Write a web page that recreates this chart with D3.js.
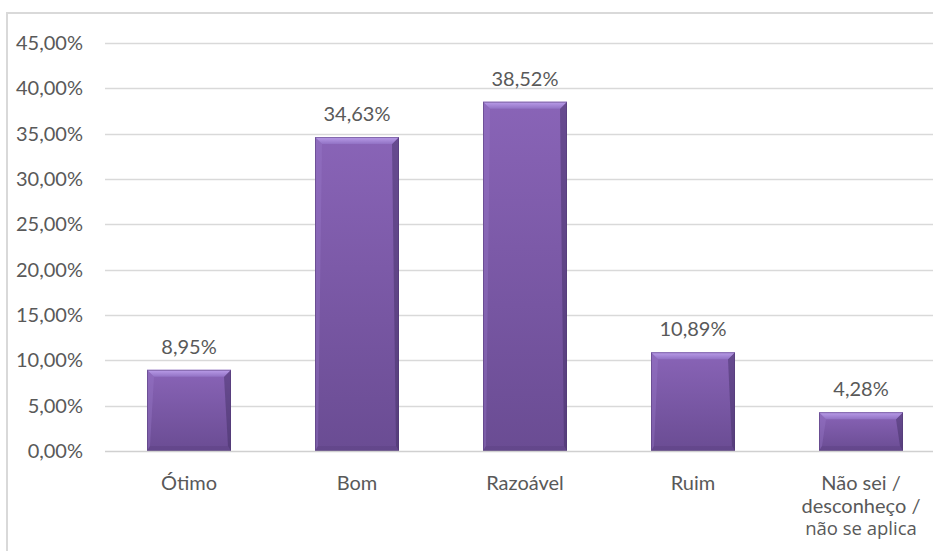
<!DOCTYPE html>
<html>
<head>
<meta charset="utf-8">
<script src="https://cdn.jsdelivr.net/npm/d3@7"></script>
<style>
html,body{margin:0;padding:0;background:#fff;}
svg{display:block;}
text{font-family:Lato,"Open Sans",sans-serif;fill:#595959;}
</style>
</head>
<body>
<svg id="chart" width="933" height="551"></svg>
<script>
const categories = ["\u00d3timo", "Bom", "Razo\u00e1vel", "Ruim", "N\u00e3o sei / desconhe\u00e7o / n\u00e3o se aplica"];
const categoryLines = [["\u00d3timo"], ["Bom"], ["Razo\u00e1vel"], ["Ruim"], ["N\u00e3o sei /", "desconhe\u00e7o /", "n\u00e3o se aplica"]];
const values = [8.95, 34.63, 38.52, 10.89, 4.28];
const yTicks = [0, 5, 10, 15, 20, 25, 30, 35, 40, 45];

const svg = d3.select("#chart");
const fs = 20;
const loc = d3.formatLocale({decimal: ",", thousands: ".", grouping: [3], currency: ["", ""]});
const fmt = loc.format(".2f");

// frame
svg.append("rect").attr("x", 7).attr("y", 13).attr("width", 1000).attr("height", 700)
  .attr("fill", "#fff").attr("stroke", "#d9d9d9").attr("stroke-width", 2);

const x = d3.scaleBand().domain(categories).range([105, 945]).paddingInner(0.5).paddingOuter(0.25);
const y = d3.scaleLinear().domain([0, 45]).range([451, 43]);

// gradients
const defs = svg.append("defs");
const g1 = defs.append("linearGradient").attr("id", "body").attr("x1", 0).attr("y1", 0).attr("x2", 0).attr("y2", 1);
g1.append("stop").attr("offset", "0%").attr("stop-color", "#8964b7");
g1.append("stop").attr("offset", "100%").attr("stop-color", "#6a4c93");
const g2 = defs.append("linearGradient").attr("id", "topbev").attr("x1", 0).attr("y1", 0).attr("x2", 0).attr("y2", 1);
g2.append("stop").attr("offset", "0%").attr("stop-color", "#bb9eea");
g2.append("stop").attr("offset", "100%").attr("stop-color", "#9172c4");

// gridlines
svg.append("g").selectAll("line").data(yTicks.filter(d => d > 0)).join("line")
  .attr("x1", 105).attr("x2", 945)
  .attr("y1", d => Math.round(y(d)) + 0.5).attr("y2", d => Math.round(y(d)) + 0.5)
  .attr("stroke", "#d9d9d9").attr("stroke-width", 1.5);

// y tick labels
svg.append("g").selectAll("text").data(yTicks).join("text")
  .attr("x", 83).attr("y", d => y(d) + 7)
  .attr("text-anchor", "end").attr("font-size", fs)
  .text(d => fmt(d) + "%");

// bars
const bt = 7, bs = 3, bb = 5;
const bars = svg.append("g").selectAll("g").data(values).join("g");
bars.each(function(v, i) {
  const g = d3.select(this);
  const x0 = x(categories[i]), w = x.bandwidth();
  const y0 = y(v), y1 = y(0);
  const x1 = x0 + w;
  g.append("rect").attr("x", x0).attr("y", y0).attr("width", w).attr("height", y1 - y0)
    .attr("fill", "url(#body)");
  g.append("polygon").attr("points", [[x0, y1], [x0 + bs, y1 - bb], [x1 - bs, y1 - bb], [x1, y1]].join(" "))
    .attr("fill", "#4f3873").attr("opacity", 0.25);
  g.append("polygon").attr("points", [[x0, y0], [x0 + bt, y0 + bt], [x0 + bs, y1 - bb], [x0, y1]].join(" "))
    .attr("fill", "#9a7bcb").attr("opacity", 0.35);
  g.append("polygon").attr("points", [[x1, y0], [x1 - bt, y0 + bt], [x1 - bs, y1 - bb], [x1, y1]].join(" "))
    .attr("fill", "#3f2c60").attr("opacity", 0.45);
  g.append("polygon").attr("points", [[x0, y0], [x1, y0], [x1 - bt, y0 + bt], [x0 + bt, y0 + bt]].join(" "))
    .attr("fill", "url(#topbev)");
  g.append("rect").attr("x", x0 + 0.5).attr("y", y0 + 0.5).attr("width", w - 1).attr("height", y1 - y0 - 1)
    .attr("fill", "none").attr("stroke", "#4f3873").attr("stroke-width", 1).attr("opacity", 0.5);
});

// axis line
svg.append("line").attr("x1", 105).attr("x2", 945).attr("y1", 451.5).attr("y2", 451.5)
  .attr("stroke", "#d0d0d0").attr("stroke-width", 1.5);

// value labels
svg.append("g").selectAll("text").data(values).join("text")
  .attr("x", (d, i) => x(categories[i]) + x.bandwidth() / 2)
  .attr("y", d => y(d) - 16)
  .attr("text-anchor", "middle").attr("font-size", fs)
  .text(d => fmt(d) + "%");

// category labels (one text element per line)
const lines = [];
categories.forEach((c, i) => categoryLines[i].forEach((t, k) => lines.push({c, t, k})));
svg.append("g").selectAll("text").data(lines).join("text")
  .attr("x", d => x(d.c) + x.bandwidth() / 2)
  .attr("y", d => 490 + d.k * 22.5)
  .attr("text-anchor", "middle")
  .attr("font-size", d => d.k === 2 ? 18.5 : fs)
  .style("font-family", d => d.k === 2 ? "'Open Sans', sans-serif" : null)
  .text(d => d.t);
</script>
</body>
</html>
